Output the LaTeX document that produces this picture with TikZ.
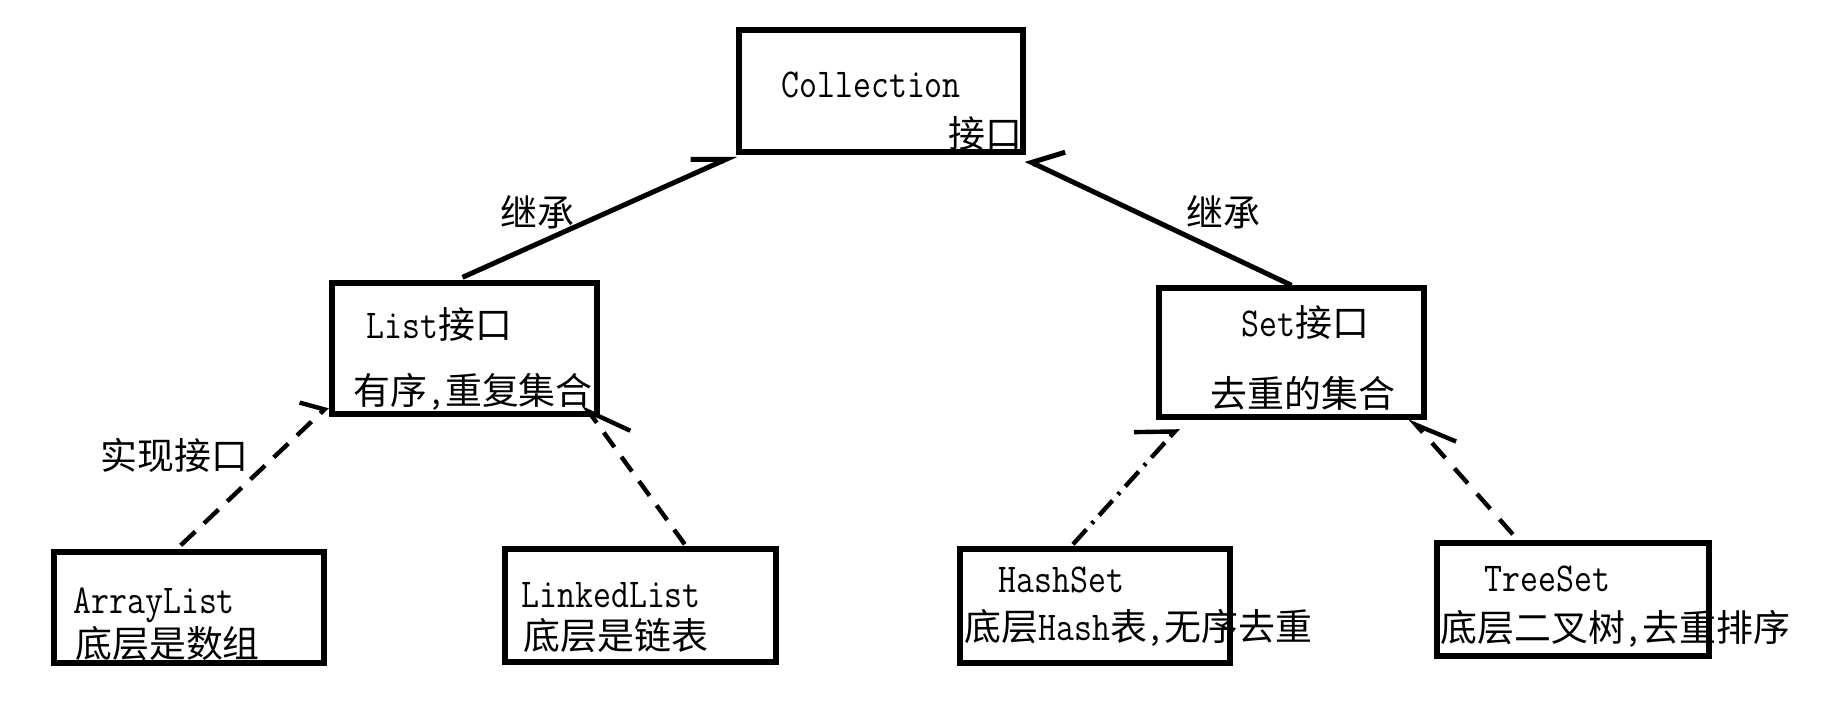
\documentclass[tikz,border=0pt]{standalone}
\usepackage{fontspec}
\usetikzlibrary{arrows.meta,calc,fit}
\newfontfamily\cjkf[Scale=0.9]{Noto Sans CJK SC}
\newfontfamily\latn[FakeStretch=0.85]{Latin Modern Mono}
\newcommand\zh[1]{{\cjkf #1}}
\tikzset{
  box/.style={draw=black, line width=2.7pt, inner sep=0pt},
  lbl/.style={anchor=base west, inner sep=0pt, font=\fontsize{20.5pt}{22pt}\selectfont\latn},
  inh/.style={line width=2.5pt},
  real/.style={line width=2.2pt},
}
\begin{document}
\begin{tikzpicture}[x=0.5pt,y=-0.5pt]
\useasboundingbox[fill=white] (0,0) rectangle (1832,719);
% boxes
\node[box,fit={(739,30)(1023,152)}] (coll) {};
\node[box,fit={(332,283)(597,414)}] (list) {};
\node[box,fit={(1159,288)(1424,417)}] (set) {};
\node[box,fit={(54,552)(324,663)}] (arr) {};
\node[box,fit={(505,549)(776,662)}] (linked) {};
\node[box,fit={(960,549)(1230,663)}] (hash) {};
\node[box,fit={(1437,543)(1709,656)}] (tree) {};
% texts
\node[lbl] (tcoll) at (781,97) {Collection};
\node[lbl] (tcoll2) at (948,147) {\zh{接口}};
\node[lbl] (tlist) at (366,338) {List\zh{接口}};
\node[lbl] (tlist2) at (353,404) {\zh{有序},\zh{重复集合}};
\node[lbl] (tset) at (1241,336) {Set\zh{接口}};
\node[lbl] (tset2) at (1210,407) {\zh{去重的集合}};
\node[lbl] (tarr) at (73,613) {ArrayList};
\node[lbl] (tarr2) at (75,657) {\zh{底层是数组}};
\node[lbl] (tlink) at (521,607) {LinkedList};
\node[lbl] (tlink2) at (523,649) {\zh{底层是链表}};
\node[lbl] (thash) at (998,592) {HashSet};
\node[lbl] (thash2) at (964,640) {\zh{底层}Hash\zh{表},\zh{无序去重}};
\node[lbl] (ttree) at (1484,591) {TreeSet};
\node[lbl] (ttree2) at (1440,641) {\zh{底层二叉树},\zh{去重排序}};
\node[lbl] (inhl) at (500,226) {\zh{继承}};
\node[lbl] (inhr) at (1186,226) {\zh{继承}};
\node[lbl] (impl) at (100,469) {\zh{实现接口}};
% connectors
\draw[inh,-{Straight Barb[left,length=16pt,width=14.5pt]}] ($(list.north)+(-2,-3)$) -- (coll.south west);
\draw[inh,-{Straight Barb[right,length=13pt,width=23.6pt]}] (set.north) -- ($(coll.south east)+(0,5)$);
\draw[real,dash pattern=on 10pt off 6pt,-{Straight Barb[left,length=6.7pt,width=22pt]}]
  ($($(arr.north west)!0.47!(arr.north east)$)+(0,-4)$) -- ($(list.south west)+(-2,-10)$);
\draw[real,dash pattern=on 9pt off 6pt,-{Straight Barb[right,length=20pt,width=22.5pt]}]
  ($($(linked.north west)!0.66!(linked.north east)$)+(0,-2)$) -- ($(list.south east)+(-16,-12)$);
\draw[real,dash pattern=on 10pt off 4pt on 1.5pt off 4pt,-{Straight Barb[left,length=14pt,width=30pt]}]
  ($($(hash.north west)!0.42!(hash.north east)$)+(0,-2)$) -- ($(set.south west)+(22,8)$);
\draw[real,dash pattern=on 10pt off 7pt,-{Straight Barb[right,length=19.5pt,width=19pt]}]
  ($($(tree.north west)!0.283!(tree.north east)$)+(0,-6)$) -- ($(set.south east)+(-17,-2)$);
\end{tikzpicture}
\end{document}
